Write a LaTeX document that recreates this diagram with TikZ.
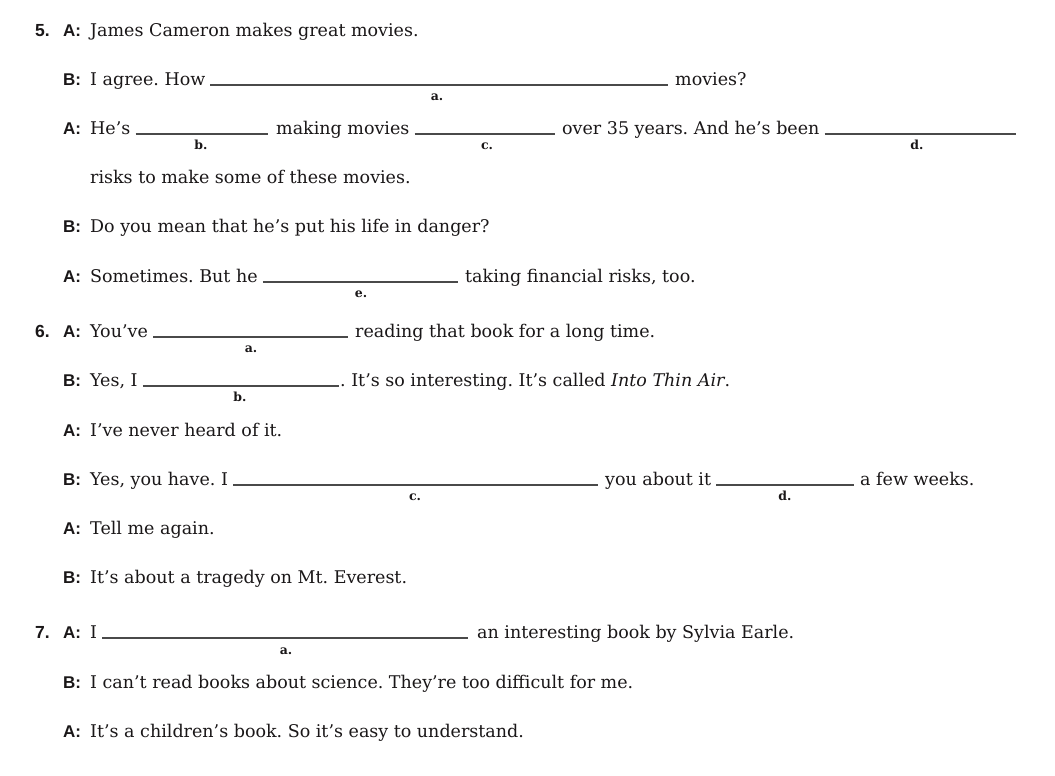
\documentclass[tikz,border=0pt]{standalone}
\usepackage{fontspec}
\setmainfont{DejaVu Serif}
\newfontfamily\labfont{Liberation Sans}
\frenchspacing
\definecolor{ink}{HTML}{1A1718}
\definecolor{rule}{HTML}{4A4A4A}
\begin{document}
\begin{tikzpicture}[x=1pt,y=-1pt,
  txt/.style={anchor=base west,inner sep=0pt,text=ink,font=\fontsize{17.5}{20}\selectfont},
  spk/.style={anchor=base west,inner sep=0pt,text=ink,font=\labfont\bfseries\fontsize{17}{19}\selectfont},
  num/.style={anchor=base west,inner sep=0pt,text=ink,font=\labfont\bfseries\fontsize{17.5}{19}\selectfont},
  let/.style={anchor=base,inner sep=0pt,text=ink,font=\bfseries\fontsize{12.5}{14}\selectfont},
  blank/.style={draw=rule,line width=1.1pt},
  gap/.style={xshift=5pt}]
\useasboundingbox[fill=white] (0,0) rectangle (1055,776);
% ---------- 5 ----------
\node[num] (n5) at (35,37) {5.};
\node[spk] (s1) at (63,37) {A:};
\node[txt] (t1) at (90,37) {James Cameron makes great movies.};
\node[spk] (s2) at (63,85) {B:};
\node[txt] (t2) at (90,85) {I agree. How};
\coordinate (b2b) at (668,85);
\draw[blank] ([gap]t2.base east) -- (b2b);
\node[let] (l2) at (437,100) {a.};
\node[txt] (t2b) at (675,85) {movies?};
\node[spk] (s3) at (63,134) {A:};
\node[txt] (t3) at (90,134) {He’s};
\coordinate (b3b) at (268,134);
\draw[blank] ([gap]t3.base east) -- (b3b);
\node[let] (l3b) at (201,149) {b.};
\node[txt] (t3b) at (276,134) {making movies};
\coordinate (b3d) at (555,134);
\draw[blank] ([gap]t3b.base east) -- (b3d);
\node[let] (l3c) at (487,149) {c.};
\node[txt] (t3c) at (562,134) {over 35 years. And he’s been};
\coordinate (b3f) at (1016,134);
\draw[blank] ([gap]t3c.base east) -- (b3f);
\node[let] (l3d) at (917,149) {d.};
\node[txt] (t4) at (90,183) {risks to make some of these movies.};
\node[spk] (s5) at (63,232) {B:};
\node[txt] (t5) at (90,232) {Do you mean that he’s put his life in danger?};
\node[spk] (s6) at (63,282) {A:};
\node[txt] (t6) at (90,282) {Sometimes. But he};
\coordinate (b6b) at (458,282);
\draw[blank] ([gap]t6.base east) -- (b6b);
\node[let] (l6) at (361,297) {e.};
\node[txt] (t6b) at (465,282) {taking financial risks, too.};
% ---------- 6 ----------
\node[num] (n6) at (35,337) {6.};
\node[spk] (s7) at (63,337) {A:};
\node[txt] (t7) at (90,337) {You’ve};
\coordinate (b7b) at (348,337);
\draw[blank] ([gap]t7.base east) -- (b7b);
\node[let] (l7) at (251,352) {a.};
\node[txt] (t7b) at (355,337) {reading that book for a long time.};
\node[spk] (s8) at (63,386) {B:};
\node[txt] (t8) at (90,386) {Yes, I};
\coordinate (b8b) at (339,386);
\draw[blank] ([gap]t8.base east) -- (b8b);
\node[let] (l8) at (240,401) {b.};
\node[txt] (t8b) at (340,386) {. It’s so interesting. It’s called \textit{Into Thin Air}.};
\node[spk] (s9) at (63,436) {A:};
\node[txt] (t9) at (90,436) {I’ve never heard of it.};
\node[spk] (s10) at (63,485) {B:};
\node[txt] (t10) at (90,485) {Yes, you have. I};
\coordinate (b10b) at (598,485);
\draw[blank] ([gap]t10.base east) -- (b10b);
\node[let] (l10c) at (415,500) {c.};
\node[txt] (t10b) at (605,485) {you about it};
\coordinate (b10d) at (854,485);
\draw[blank] ([gap]t10b.base east) -- (b10d);
\node[let] (l10d) at (785,500) {d.};
\node[txt] (t10c) at (860,485) {a few weeks.};
\node[spk] (s11) at (63,534) {A:};
\node[txt] (t11) at (90,534) {Tell me again.};
\node[spk] (s12) at (63,583) {B:};
\node[txt] (t12) at (90,583) {It’s about a tragedy on Mt. Everest.};
% ---------- 7 ----------
\node[num] (n7) at (35,638) {7.};
\node[spk] (s13) at (63,638) {A:};
\node[txt] (t13) at (90,638) {I};
\coordinate (b13b) at (468,638);
\draw[blank] ([gap]t13.base east) -- (b13b);
\node[let] (l13) at (286,654) {a.};
\node[txt] (t13b) at (477,638) {an interesting book by Sylvia Earle.};
\node[spk] (s14) at (63,688) {B:};
\node[txt] (t14) at (90,688) {I can’t read books about science. They’re too difficult for me.};
\node[spk] (s15) at (63,737) {A:};
\node[txt] (t15) at (90,737) {It’s a children’s book. So it’s easy to understand.};
\end{tikzpicture}
\end{document}
